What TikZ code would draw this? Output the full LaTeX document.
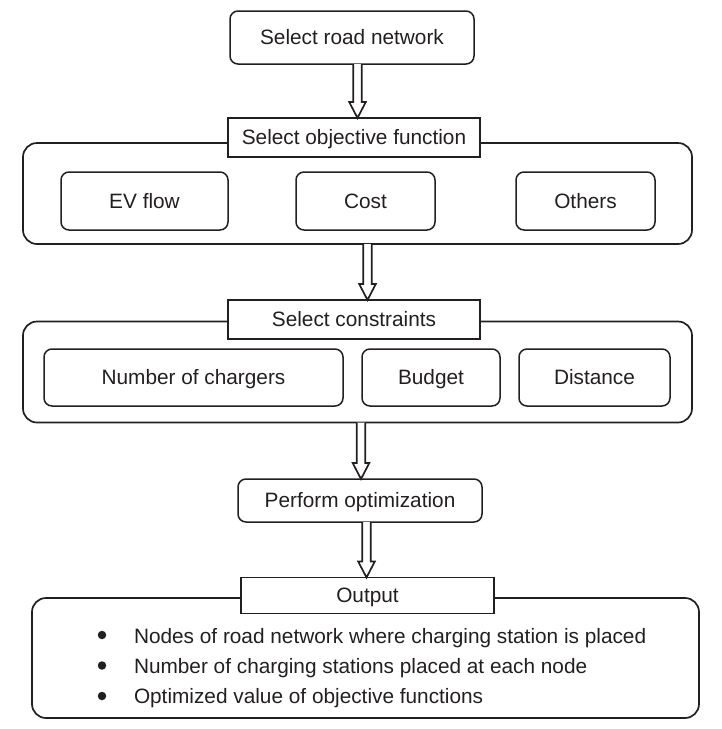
\documentclass[tikz,border=0pt]{standalone}
\usepackage{fontspec}
\setmainfont{Liberation Sans}
\usetikzlibrary{calc}
\definecolor{ink}{HTML}{231F20}
\newcommand\harrow[3]{%
  \path (#1,0) coordinate (hx);
  \draw[harr] ($(hx |- #2.south)+(-4.3,0)$) -- ($(hx |- #3.north)+(-4.3,-16)$) -- ($(hx |- #3.north)+(-8.3,-16)$) -- (hx |- #3.north) -- ($(hx |- #3.north)+(8.3,-16)$) -- ($(hx |- #3.north)+(4.3,-16)$) -- ($(hx |- #2.south)+(4.3,0)$);
}
\begin{document}
\begin{tikzpicture}[x=1pt,y=-1pt,
  every node/.style={inner sep=0pt, outer sep=0pt, text=ink, font=\fontsize{20.8}{24}\selectfont},
  lbl/.style={text height=15pt, text depth=1pt},
  rbox/.style={lbl, draw=ink, line width=1.5pt, rounded corners=8pt},
  obox/.style={draw=ink, line width=1.7pt, rounded corners=14pt},
  hbox/.style={lbl, draw=ink, line width=1.7pt, fill=white},
  harr/.style={draw=ink, line width=1.7pt, fill=white, line join=miter},
  dot/.style={circle, fill=ink, minimum size=8.5pt},
  bl/.style={anchor=base west}]
\useasboundingbox (0,0) rectangle (722,729);
% top
\node[rbox, minimum width=244pt, minimum height=53pt] (rn) at (352,37.5) {Select road network};
% objective group
\node[obox, minimum width=669pt, minimum height=101pt] (g1) at (357.5,193.5) {};
\node[hbox, minimum width=252pt, minimum height=39pt] (obj) at (354,137.5) {Select objective function};
\node[rbox, minimum width=167pt, minimum height=58pt] (ev) at (144.5,201) {EV flow};
\node[rbox, minimum width=139pt, minimum height=58pt] (cost) at (365.5,201) {Cost};
\node[rbox, minimum width=139pt, minimum height=58pt] (oth) at (585.5,201) {Others};
% constraints group
\node[obox, minimum width=669pt, minimum height=101pt] (g2) at (357.5,372) {};
\node[hbox, minimum width=252pt, minimum height=39pt] (cons) at (354,319.5) {Select constraints};
\node[rbox, minimum width=299pt, minimum height=57pt] (nch) at (193.5,377.5) {Number of chargers};
\node[rbox, minimum width=138pt, minimum height=57pt] (bud) at (431,377.5) {Budget};
\node[rbox, minimum width=151pt, minimum height=57pt] (dist) at (594.5,377.5) {Distance};
% optimization
\node[rbox, minimum width=244pt, minimum height=43pt] (perf) at (360,500.5) {Perform optimization};
% output group
\node[obox, minimum width=667pt, minimum height=120pt] (g3) at (365.5,658) {};
\node[hbox, minimum width=253pt, minimum height=36pt] (out) at (367.5,595.5) {Output};
\node[dot] (d1) at (102,635) {};
\node[dot] (d2) at (102,665.5) {};
\node[dot] (d3) at (102,696) {};
\node[bl] (b1) at (134,643) {Nodes of road network where charging station is placed};
\node[bl] (b2) at (134,673) {Number of charging stations placed at each node};
\node[bl] (b3) at (134,703) {Optimized value of objective functions};
% arrows
\harrow{357.5}{rn}{obj}
\harrow{367.5}{g1}{cons}
\harrow{361}{g2}{perf}
\harrow{366.5}{perf}{out}
\end{tikzpicture}
\end{document}
